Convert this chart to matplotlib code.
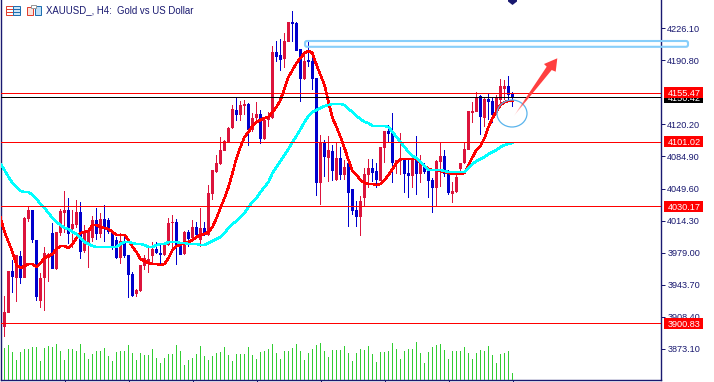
import numpy as np
import matplotlib
matplotlib.use("Agg")
import matplotlib.pyplot as plt
from matplotlib.patches import Ellipse, FancyBboxPatch, Polygon, Rectangle

# H4 bars
opens = [3974.1,3896.8,3912.3,3958.6,3950.9,3975.2,3950.9,4016,4025.9,3992.8,
         3925.5,3950.9,3973,4000.5,3960.8,4000.5,4022.6,4025.9,4004.9,4009.3,
         4023.7,3980.7,3988.4,3995,4014.8,3999.4,4016,4014.8,4001.6,3992.8,
         3973,3991.7,3976.3,3955.3,3933.2,3936.5,3964.1,3968.5,3975.2,3982.9,
         3978.5,3976.3,3987.3,4011.5,4012.6,3987.3,3977.4,4001.6,3995,4007.1,
         3992.8,4006,3998.3,4043.5,4067.8,4076.6,4091,4100.9,4116.3,4136.2,
         4130.7,4140.6,4142.8,4114.1,4127.3,4131.8,4104.2,4125.1,4127.3,4200.1,
         4196.8,4192.4,4211.2,4233.2,4232.1,4203.5,4170.4,4191.3,4190.2,4171.5,
         4055.7,4099.8,4083.2,4091,4059,4083.2,4064.5,4077.7,4049,4025.9,
         4018.2,4039.1,4064.5,4072.2,4068.9,4057.9,4094.3,4113,4110.8,4077.7,
         4079.9,4082.1,4066.7,4063.4,4081,4065.6,4075.5,4068.9,4059,4050.1,
         4078.8,4085.4,4066.7,4043.5,4045.7,4071.1,4077.7,4092.1,4132.9,4134,
         4151.6,4127.3,4148.3,4146.1,4132.9,4147.2,4159.3,4162.6,4153.8]
closes = [3896.8,3913.4,3958.6,3952,3976.3,3950.9,4017.1,4025.9,3992.8,3929.9,
          3950.9,3978.5,3977.4,3960.8,4001.6,4024.8,4025.9,3999.4,4010.4,4023.7,
          3979.6,4002.7,4002.7,4014.8,3999.4,4016,4006,4001.6,3985.1,3973,
          3991.7,3975.2,3954.2,3931,3937.6,3965.2,3973,3971.8,3982.9,3978.5,
          3976.3,3989.5,4011.5,4012.6,3985.1,3976.3,4001.6,3993.9,4007.1,3998.3,
          4006,4000.5,4044.6,4070,4077.7,4092.1,4102,4116.3,4137.3,4130.7,
          4141.7,4142.8,4114.1,4127.3,4131.8,4104.2,4125.1,4128.4,4200.1,4194.6,
          4191.3,4212.3,4233.2,4231,4201.2,4170.4,4190.2,4189.1,4170.4,4055.7,
          4100.9,4084.3,4092.1,4068.9,4083.2,4064.5,4073.3,4044.6,4024.8,4018.2,
          4035.8,4065.6,4072.2,4066.7,4059,4095.4,4113,4109.7,4077.7,4081,
          4083.2,4065.6,4063.4,4082.1,4065.6,4077.7,4067.8,4057.9,4050.1,4079.9,
          4085.4,4065.6,4044.6,4046.8,4062.3,4077.7,4093.2,4135.1,4135.1,4150.5,
          4128.4,4148.3,4145,4130.7,4149.4,4162.6,4162.6,4152.7,4150.4]
highs = [3974.1,3931,3958.6,3970.7,3976.3,3980.7,4018.2,4029.2,4025.9,3992.8,
         3956.4,3985.1,3978.5,4011.5,4001.6,4027,4046.8,4039.1,4025.9,4036.9,
         4034.7,4009.3,4004.9,4019.3,4028.1,4022.6,4031.4,4017.1,4003.8,3996.1,
         4000.5,3997.2,3976.3,3957.5,3938.7,3965.2,3976.3,3985.1,3990.6,3990.6,
         3987.3,3989.5,4017.1,4020.4,4016,3987.3,4002.7,4003.8,4014.8,4012.6,
         4028.1,4012.6,4053.5,4070,4086.5,4106.4,4103.1,4117.4,4141.7,4150.5,
         4146.1,4147.2,4143.9,4132.9,4145,4136.2,4128.4,4134,4206.8,4212.3,
         4214.5,4221.1,4233.2,4245.4,4233.2,4203.5,4196.8,4213.4,4196.8,4171.5,
         4108.6,4103.1,4107.5,4097.6,4100.9,4095.4,4081,4083.2,4049,4035.8,
         4041.3,4072.2,4082.1,4082.1,4077.7,4095.4,4113,4119.6,4132.9,4081,
         4110.8,4082.1,4083.2,4082.1,4107.5,4086.5,4077.7,4073.3,4061.2,4081,
         4100.9,4092.1,4070,4056.8,4067.8,4077.7,4100.9,4135.1,4145,4156,
         4152.7,4150.5,4154.9,4149.4,4152.7,4170.4,4169.3,4173.7,4156]
lows = [3896.8,3885.8,3912.3,3934.3,3924.4,3944.3,3950.9,4012.6,3989.5,3925.5,
        3917.8,3914.5,3946.5,3960.8,3959.7,3997.2,4000.5,3988.4,3984,4006,
        3971.8,3978.5,3961.9,3990.6,3992.8,3995,3990.6,3999.4,3981.8,3971.8,
        3966.3,3973,3928.8,3929.9,3929.9,3935.4,3959.7,3956.4,3965.2,3977.4,
        3966.3,3975.2,3986.2,3981.8,3965.2,3976.3,3976.3,3985.1,3993.9,3995,
        3985.1,3997.2,3997.2,4036.9,4066.7,4075.5,4091,4100.9,4115.2,4124,
        4124,4130.7,4096.5,4111.9,4125.1,4098.7,4103.1,4117.4,4126.2,4189.1,
        4179.2,4182.5,4211.2,4211.2,4201.2,4145,4169.3,4183.6,4158.2,4041.3,
        4031.4,4062.3,4056.8,4057.9,4057.9,4059,4059,4007.1,4020.4,4007.1,
        3997.2,4030.3,4050.1,4056.8,4050.1,4057.9,4077.7,4099.8,4055.7,4065.6,
        4064.5,4044.6,4039.1,4050.1,4042.4,4055.7,4065.6,4039.1,4022.6,4030.3,
        4051.2,4062.3,4042.4,4033.6,4044.6,4065.6,4076.6,4092.1,4121.8,4134,
        4108.6,4117.4,4125.1,4121.8,4130.7,4138.4,4147.2,4147.2,4139.5]

fast_ma = [4017.1,4001.6,3990.6,3979.6,3965.2,3961.9,3964.1,3966.3,3966.3,3963,
           3967.4,3973,3975.2,3977.4,3982.9,3986.2,3986.2,3984,3988.4,3995,
           4000.5,4001.6,4002.7,4009.3,4009.3,4007.1,4006,4004.9,4001.6,3998.3,
           3998.3,3998.3,3992.8,3985.1,3979.6,3971.8,3969.6,3967.4,3966.3,3966.3,
           3965.2,3966.3,3973,3981.8,3986.2,3987.3,3990.6,3990.6,3992.8,3996.1,
           3998.3,3999.4,4001.6,4007.1,4017.1,4028.1,4039.1,4051.2,4066.7,4083.2,
           4095.4,4106.4,4111.9,4118.5,4122.9,4125.1,4127.3,4128.4,4134,4139.5,
           4147.2,4160.4,4172.6,4180.3,4188,4193.5,4199,4201.2,4199,4185.8,
           4174.8,4163.7,4145,4127.3,4117.4,4106.4,4094.3,4081,4068.9,4064.5,
           4059,4055.7,4054.6,4054.6,4053.5,4054.6,4059,4064.5,4071.1,4077.7,
           4082.1,4082.1,4082.1,4082.1,4082.1,4077.7,4074.4,4071.1,4070,4070,
           4068.9,4067.8,4066.7,4065.6,4065.6,4065.6,4066.7,4075.5,4084.3,4092.1,
           4096.5,4105.3,4117.4,4127.3,4135.1,4141.7,4145,4146.1,4146.1]
slow_ma = [4076.6,4070,4062.3,4055.7,4051.2,4046.8,4045.7,4045.7,4042.4,4038,
           4032.5,4028.1,4022.6,4017.1,4012.6,4009.3,4006,4004.9,4001.6,3999.4,
           3995,3990.6,3988.4,3986.2,3985.1,3985.1,3985.1,3985.1,3985.1,3985.1,
           3988.4,3990.6,3990.6,3989.5,3988.4,3988.4,3987.3,3985.1,3985.1,3987.3,
           3988.4,3988.4,3990.6,3990.6,3990.6,3989.5,3989.5,3988.4,3988.4,3988.4,
           3987.3,3987.3,3989.5,3991.7,3993.9,3996.1,4000.5,4006,4010.4,4013.7,
           4018.2,4022.6,4029.2,4034.7,4039.1,4045.7,4051.2,4056.8,4066.7,4073.3,
           4079.9,4086.5,4093.2,4100.9,4107.5,4115.2,4122.9,4129.6,4134,4136.2,
           4138.4,4140.6,4141.7,4142.8,4142.8,4142.8,4141.7,4137.3,4134,4129.6,
           4126.2,4122.9,4121.8,4118.5,4118.5,4118.5,4118.5,4117.4,4111.9,4106.4,
           4100.9,4095.4,4089.8,4085.4,4083.2,4078.8,4074.4,4070,4070,4070,
           4070,4068.9,4067.8,4067.8,4067.8,4067.8,4067.8,4072.2,4076.6,4079.9,
           4082.1,4084.3,4087.6,4089.8,4092.1,4095.4,4097.6,4098.7,4099.8]

volumes = [30,32,35,28,20,28,31,31,33,33,19,32,34,33,36,29,20,31,31,29,
           36,27,21,26,29,29,32,24,19,28,29,29,35,27,20,27,25,25,31,22,
           17,22,26,26,35,29,15,20,22,26,34,24,20,24,27,28,33,25,19,26,
           26,26,33,25,21,28,29,31,36,27,21,29,29,32,36,29,20,27,31,35,
           37,29,23,30,30,30,34,27,19,27,31,30,34,26,18,28,28,29,37,31,
           21,29,31,31,38,27,17,28,33,35,36,30,21,29,29,29,33,27,21,27,
           30,29,34,25,17,26,27,29,7]

price_ticks = [4226.10,4190.80,4120.20,4084.90,4049.60,4014.30,3979.00,3943.70,3908.40,3873.10]
level_lines = [4155.47,4101.02,4030.17,3900.83]
last_price = 4150.42

NAVY = "#191970"
CRIMSON = "#DC143C"
BLUE = "#0000CD"
LIGHT_BLUE = "#87CEFA"
plt.rcParams["font.family"] = ["Liberation Sans", "DejaVu Sans"]
FONT = 6.6
PX = 0.72  # one pixel in points at dpi 100

fig = plt.figure(figsize=(7.14, 3.82), dpi=100)
ax = fig.add_axes([1 / 714, 2 / 382, 660 / 714, 380 / 382])
ax.set_xlim(0.125, 165.125)
ax.set_ylim(3838.4, 4257.5)

x = np.arange(len(opens))
o = np.array(opens)
c = np.array(closes)
colors = [CRIMSON if b >= a else BLUE for a, b in zip(o, c)]

# candles, hard edged like the terminal draws them
ax.bar(x, np.array(highs) - np.array(lows), bottom=lows, width=0.25,
       color=colors, lw=0, zorder=2, antialiased=False)
ax.bar(x, np.maximum(np.abs(c - o), 1), bottom=np.minimum(o, c), width=0.75,
       color=colors, lw=0, zorder=2.1, antialiased=False)

# moving averages
ax.plot(x, fast_ma, color="#FF0000", lw=1.15, zorder=3, antialiased=False)
ax.plot(x, slow_ma, color="#00FFFF", lw=1.15, zorder=3, antialiased=False)

# horizontal levels
for level in level_lines:
    ax.axhline(level, color="#FF0000", lw=PX, zorder=3.5, antialiased=False)
ax.axhline(last_price, color="black", lw=PX, zorder=3.4, antialiased=False)

# volume panel shares the same window
ax_vol = fig.add_axes(ax.get_position(), sharex=ax)
ax_vol.set_ylim(0, 380)
ax_vol.axis("off")
ax_vol.patch.set_alpha(0)
ax_vol.bar(x, volumes, width=0.25, color="#32CD32", lw=0, antialiased=False)

# axis look
ax.spines["top"].set_visible(False)
for name in ["left", "right", "bottom"]:
    ax.spines[name].set_color(NAVY)
    ax.spines[name].set_linewidth(1.0)
ax.yaxis.tick_right()
ax.set_yticks(price_ticks)
ax.set_yticklabels(["%.2f" % p for p in price_ticks], fontsize=FONT, color=NAVY)
ax.tick_params(axis="y", length=3, width=PX, color=NAVY, pad=1.5)
ax.set_xticks(np.arange(16, 129, 16))
ax.set_xticklabels([])
ax.tick_params(axis="x", length=2, width=PX, color=NAVY)

# price tags on the right: 39 px wide, 11 px tall
def price_tag(price, color, z):
    trans = ax.get_yaxis_transform()
    ax.add_patch(Rectangle((1 + 3 / 660, price - 5.5 * 1.103), 39 / 660, 11 * 1.103, transform=trans,
                           fc=color, ec="none", clip_on=False, zorder=z))
    ax.text(1 + 7 / 660, price, "%.2f" % price, transform=trans, fontsize=FONT, color="white",
            va="center_baseline", ha="left", clip_on=False, zorder=z + 0.1)

price_tag(last_price, "black", 6)
for level in level_lines:
    price_tag(level, "#FF0000", 7)

# drawn objects, in picture pixels
over = fig.add_axes([0, 0, 1, 1])
over.set_xlim(0, 714)
over.set_ylim(382, 0)
over.axis("off")
over.patch.set_alpha(0)

over.add_patch(FancyBboxPatch((305, 41), 383, 5.8, boxstyle="round,pad=0,rounding_size=2",
                              fill=False, ec=LIGHT_BLUE, lw=1.5, clip_on=False))
over.add_patch(Ellipse((512, 113.5), 30, 27, fill=False, ec="#5AB4EC", lw=0.9))

arrow = Polygon([(513.3, 116.7), (546.7, 66.7), (544, 64), (557.3, 58.3), (555.7, 71.7), (551.7, 70)],
                closed=True, fc="none", ec="none")
over.add_patch(arrow)
ramp = np.zeros((2, 64, 4))
ramp[..., 0] = 1.0
ramp[..., 1] = 0.25
ramp[..., 2] = 0.25
ramp[..., 3] = np.clip(np.linspace(0, 3.5, 64), 0, 1)
img = over.imshow(ramp, extent=(513, 558, 118, 57), aspect="auto", zorder=5)
img.set_clip_path(arrow)
over.set_xlim(0, 714)
over.set_ylim(382, 0)

# marker at the top of the window
over.add_patch(Polygon([(508, 0), (517, 0), (517, 1.5), (512.5, 5), (508, 1.5)], fc=NAVY, ec="none"))

# title icons
over.add_patch(Rectangle((5.5, 6), 7, 9, fc="white", ec="#E04030", lw=PX))
over.add_patch(Rectangle((12.5, 6), 7, 9, fc="#CFE6F8", ec="#1F6FB0", lw=PX))
for yy in [9, 12]:
    over.plot([6, 12], [yy, yy], color="#E04030", lw=PX)
    over.plot([13, 19], [yy, yy], color="#1F6FB0", lw=PX)
over.add_patch(Rectangle((26.5, 7), 6, 8, fc="#FBE3DC", ec="#E04030", lw=PX))
over.add_patch(Rectangle((34.5, 6), 6, 9, fc="#BFE0F8", ec="#1F6FB0", lw=PX))
over.add_patch(Rectangle((31, 5), 5, 2.5, fc="white", ec="#999999", lw=PX))

over.text(46.5, 10.5, "XAUUSD_, H4:  Gold vs US Dollar", fontsize=6.9, color=NAVY, va="center", ha="left")

fig.savefig("out.png", dpi=100)
